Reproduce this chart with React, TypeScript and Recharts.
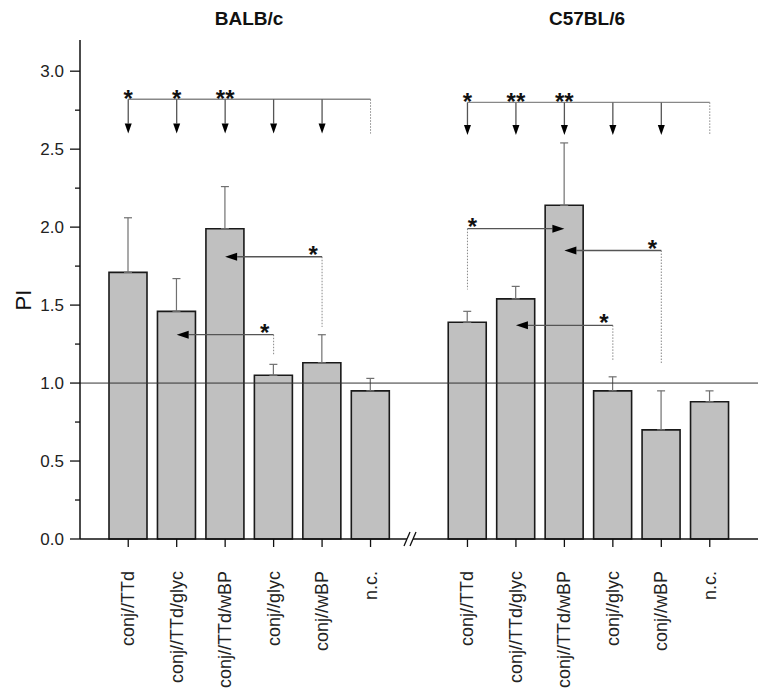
import React from 'react';
import { BarChart, Bar, XAxis, YAxis, ErrorBar, ReferenceLine } from 'recharts';

// categories: BALB/c (B*), axis break, C57BL/6 (C*)
const categoryIds = ['B1', 'B2', 'B3', 'B4', 'B5', 'B6', 'gap', 'C1', 'C2', 'C3', 'C4', 'C5', 'C6'];
const categoryLabels = [
  'conj//TTd', 'conj//TTd/glyc', 'conj//TTd/wBP', 'conj//glyc', 'conj//wBP', 'n.c.',
  '',
  'conj//TTd', 'conj//TTd/glyc', 'conj//TTd/wBP', 'conj//glyc', 'conj//wBP', 'n.c.',
];
const piValues = [1.71, 1.46, 1.99, 1.05, 1.13, 0.95, null, 1.39, 1.54, 2.14, 0.95, 0.7, 0.88];
const errorTops = [2.06, 1.67, 2.26, 1.12, 1.31, 1.03, null, 1.46, 1.62, 2.54, 1.04, 0.95, 0.95];
const yTicks = [0, 0.25, 0.5, 0.75, 1, 1.25, 1.5, 1.75, 2, 2.25, 2.5, 2.75, 3];
const groupTitles = ['BALB/c', 'C57BL/6'];

// top brackets: group members, bracket level, arrow tip level, stars per member
const balbMembers = ['B1', 'B2', 'B3', 'B4', 'B5', 'B6'];
const c57Members = ['C1', 'C2', 'C3', 'C4', 'C5', 'C6'];
const bracketLevels = [2.82, 2.8];
const bracketTips = [2.6, 2.59];
const balbStars = ['*', '*', '**', '', '', ''];
const c57Stars = ['*', '**', '**', '', '', ''];

// pairwise comparisons: from -> to at level, dotted drop down to dotEnd
const compFrom = ['B5', 'B4', 'C1', 'C5', 'C4'];
const compTo = ['B3', 'B2', 'C3', 'C3', 'C2'];
const compLevel = [1.81, 1.31, 1.99, 1.85, 1.37];
const compDotEnd = [1.36, 1.18, 1.6, 1.12, 1.14];
const compStars = ['*', '*', '*', '*', '*'];

const rows = categoryIds.map((id, i) => ({
  id,
  pi: piValues[i],
  err: piValues[i] == null ? null : [0, +((errorTops[i] as number) - (piValues[i] as number)).toFixed(2)],
}));

const labelById: { [k: string]: string } = {};
categoryIds.forEach((id, i) => { labelById[id] = categoryLabels[i]; });

const FONT = '"Liberation Sans", Arial, sans-serif';

function YTick(props: any) {
  const { x, y, payload } = props;
  const v = payload.value;
  const major = Math.abs(v * 2 - Math.round(v * 2)) < 1e-6;
  return (
    <g>
      <line x1={x - (major ? 10 : 5)} x2={x} y1={y} y2={y} stroke="#111" strokeWidth={1.3} />
      {major && (
        <text x={x - 16} y={y} dy="0.36em" textAnchor="end" fontSize={17} fill="#222" fontFamily={FONT}>
          {v.toFixed(1)}
        </text>
      )}
    </g>
  );
}

function XTick(props: any) {
  const { x, y, payload } = props;
  const label = labelById[payload.value];
  if (!label) {
    // axis break
    return (
      <g>
        <rect x={x - 12} y={y - 3} width={6} height={6} fill="#fff" />
        <line x1={x - 15} y1={y + 7} x2={x - 9} y2={y - 7} stroke="#111" strokeWidth={1.3} />
        <line x1={x - 9} y1={y + 7} x2={x - 3} y2={y - 7} stroke="#111" strokeWidth={1.3} />
      </g>
    );
  }
  return (
    <g>
      <line x1={x} x2={x} y1={y} y2={y + 8} stroke="#111" strokeWidth={1.3} />
      <text
        transform={`translate(${x},${y + 32}) rotate(-90)`}
        textAnchor="end"
        dominantBaseline="central"
        fontSize={18}
        fill="#222"
        fontFamily={FONT}
      >
        {label}
      </text>
    </g>
  );
}

function arrowHead(x1: number, y1: number, x2: number, y2: number, hl: number, hw: number) {
  const len = Math.hypot(x2 - x1, y2 - y1) || 1;
  const ux = (x2 - x1) / len;
  const uy = (y2 - y1) / len;
  const bx = x2 - ux * hl;
  const by = y2 - uy * hl;
  return { bx, by, pts: `${x2},${y2} ${bx - uy * hw},${by + ux * hw} ${bx + uy * hw},${by - ux * hw}` };
}

const downArrow = (star: string) => (props: any) => {
  const { x1, y1, x2, y2 } = props;
  const h = arrowHead(x1, y1, x2, y2, 10, 3.5);
  return (
    <g>
      <line x1={x1} y1={y1} x2={h.bx} y2={h.by} stroke="#555" strokeWidth={1.3} />
      <polygon points={h.pts} fill="#000" />
      {star && (
        <text x={x1} y={y1 + 8} textAnchor="middle" fontSize={24} fontWeight="bold" fill="#111" fontFamily={FONT}>
          {star}
        </text>
      )}
    </g>
  );
};

const sideArrow = (star: string) => (props: any) => {
  const { x1, y1, x2, y2 } = props;
  const h = arrowHead(x1, y1, x2, y2, 12, 4);
  const sx = x2 > x1 ? x1 + 5 : x1 - 9;
  return (
    <g>
      <line x1={x1} y1={y1} x2={h.bx} y2={h.by} stroke="#555" strokeWidth={1.3} />
      <polygon points={h.pts} fill="#000" />
      <text x={sx} y={y1 + 6} textAnchor="middle" fontSize={24} fontWeight="bold" fill="#111" fontFamily={FONT}>
        {star}
      </text>
    </g>
  );
};

function bracket(members: string[], level: number, tip: number, stars: string[]) {
  const out: React.ReactNode[] = [];
  out.push(
    <ReferenceLine
      key={`br-${members[0]}`}
      segment={[{ x: members[0], y: level }, { x: members[members.length - 1], y: level }]}
      stroke="#888"
      strokeWidth={1.3}
      ifOverflow="visible"
    />
  );
  members.forEach((m, i) => {
    if (i === members.length - 1) {
      out.push(
        <ReferenceLine
          key={`dn-${m}`}
          segment={[{ x: m, y: level }, { x: m, y: tip }]}
          stroke="#888"
          strokeWidth={1}
          strokeDasharray="1.5 1.5"
          ifOverflow="visible"
        />
      );
    } else {
      out.push(
        <ReferenceLine
          key={`dn-${m}`}
          segment={[{ x: m, y: level }, { x: m, y: tip }]}
          shape={downArrow(stars[i])}
          ifOverflow="visible"
        />
      );
    }
  });
  return out;
}

export default function App() {
  return (
    <div style={{ position: 'absolute', left: 0, top: 0, background: '#fff' }}>
      <BarChart
        width={760}
        height={695}
        data={rows}
        margin={{ top: 40, right: 2, bottom: 0, left: 0 }}
        style={{ fontFamily: FONT }}
      >
        <XAxis
          dataKey="id"
          height={156}
          interval={0}
          padding={{ left: 24, right: 24 }}
          tickLine={false}
          tickSize={0}
          tickMargin={0}
          axisLine={{ stroke: '#111', strokeWidth: 1.5 }}
          tick={<XTick />}
        />
        <YAxis
          width={80}
          domain={[0, 3.2]}
          ticks={yTicks}
          interval={0}
          tickLine={false}
          tickSize={0}
          tickMargin={0}
          axisLine={{ stroke: '#111', strokeWidth: 1.5 }}
          tick={<YTick />}
        />
        <Bar
          dataKey="pi"
          fill="#c0c0c0"
          stroke="#1a1a1a"
          strokeWidth={1.6}
          barSize={38}
          isAnimationActive={false}
        >
          <ErrorBar dataKey="err" direction="y" width={4} stroke="#707070" strokeWidth={1.2} />
        </Bar>
        <ReferenceLine y={1} stroke="#333" strokeWidth={1} />
        {bracket(balbMembers, bracketLevels[0], bracketTips[0], balbStars)}
        {bracket(c57Members, bracketLevels[1], bracketTips[1], c57Stars)}
        {compFrom.map((f, i) => (
          <ReferenceLine
            key={`cd-${i}`}
            segment={[{ x: f, y: compLevel[i] }, { x: f, y: compDotEnd[i] }]}
            stroke="#888"
            strokeWidth={1}
            strokeDasharray="1.5 1.5"
            ifOverflow="visible"
          />
        ))}
        {compFrom.map((f, i) => (
          <ReferenceLine
            key={`ca-${i}`}
            segment={[{ x: f, y: compLevel[i] }, { x: compTo[i], y: compLevel[i] }]}
            shape={sideArrow(compStars[i])}
            ifOverflow="visible"
          />
        ))}
        <text x={249} y={25} textAnchor="middle" fontSize={19} fontWeight="bold" fill="#111" fontFamily={FONT}>
          {groupTitles[0]}
        </text>
        <text x={587} y={25} textAnchor="middle" fontSize={19} fontWeight="bold" fill="#111" fontFamily={FONT}>
          {groupTitles[1]}
        </text>
        <text
          transform="translate(23,300) rotate(-90)"
          textAnchor="middle"
          dominantBaseline="central"
          fontSize={22}
          fill="#111"
          fontFamily={FONT}
        >
          PI
        </text>
      </BarChart>
    </div>
  );
}
